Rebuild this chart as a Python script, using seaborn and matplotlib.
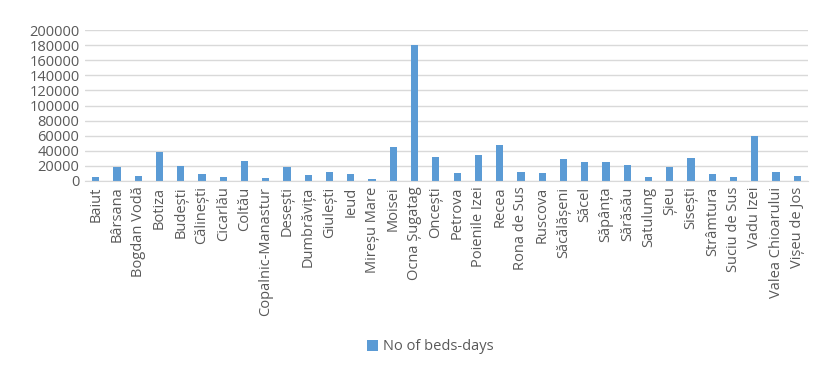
import matplotlib
matplotlib.use("Agg")
import matplotlib.pyplot as plt
import seaborn as sns
import pandas as pd

categories = ["Baiut", "Bârsana", "Bogdan Vodă", "Botiza", "Budești", "Călinești", "Cicarlău",
              "Coltău", "Copalnic-Manastur", "Desești", "Dumbrăvița", "Giulești", "Ieud",
              "Mireșu Mare", "Moisei", "Ocna Șugatag", "Oncești", "Petrova", "Poienile Izei",
              "Recea", "Rona de Sus", "Ruscova", "Săcălășeni", "Săcel", "Săpânța", "Sărăsău",
              "Satulung", "Șieu", "Sisești", "Strâmtura", "Suciu de Sus", "Vadu Izei",
              "Valea Chioarului", "Vișeu de Jos"]
values = [5300, 18500, 7000, 39000, 20000, 9700, 5300,
          27000, 4000, 18500, 8000, 12300, 9700,
          2200, 45000, 180000, 32000, 11000, 34400,
          47600, 12300, 11000, 28600, 25500, 25500, 21100,
          5300, 18500, 30400, 9200, 5300, 59500,
          12300, 7000]
series_name = "No of beds-days"
yticks = [0, 20000, 40000, 60000, 80000, 100000, 120000, 140000, 160000, 180000, 200000]

df = pd.DataFrame({"cat": categories, "val": values, "series": series_name})

sns.set_style("white")
plt.rcParams['font.family'] = ['Open Sans', 'DejaVu Sans']
text_color = "#595959"

fig = plt.figure(figsize=(8.18, 3.70), dpi=100)
ax = fig.add_axes([85/818, 1 - 181/370, (808 - 85)/818, (181 - 30)/370])

sns.barplot(data=df, x="cat", y="val", hue="series", palette=["#5B9BD5"],
            saturation=1, width=0.34, linewidth=0, ax=ax, legend=True)

ax.set_ylim(0, 200000)
ax.set_yticks(yticks)
ax.set_yticklabels([str(v) for v in yticks], fontsize=10.5, color=text_color)
ax.set_xlim(-0.5, len(categories) - 0.5)
ax.set_xticks(range(len(categories)))
ax.set_xticklabels(categories, rotation=90, fontsize=10.5, color=text_color)
ax.tick_params(axis="both", length=0, pad=4)
ax.set_xlabel("")
ax.set_ylabel("")
ax.yaxis.grid(True, color="#D9D9D9", linewidth=1)
ax.set_axisbelow(True)
for s in ["top", "right", "left"]:
    ax.spines[s].set_visible(False)
ax.spines["bottom"].set_color("#D9D9D9")

leg = ax.get_legend()
leg.remove()
handles, labels = ax.get_legend_handles_labels()
fig.legend(handles, labels, loc="center", bbox_to_anchor=(430/818, 1 - 347/370),
           frameon=False, fontsize=10.5, handlelength=0.8, handleheight=0.8,
           handletextpad=0.3, labelcolor=text_color)

fig.savefig("out.png", dpi=100)
